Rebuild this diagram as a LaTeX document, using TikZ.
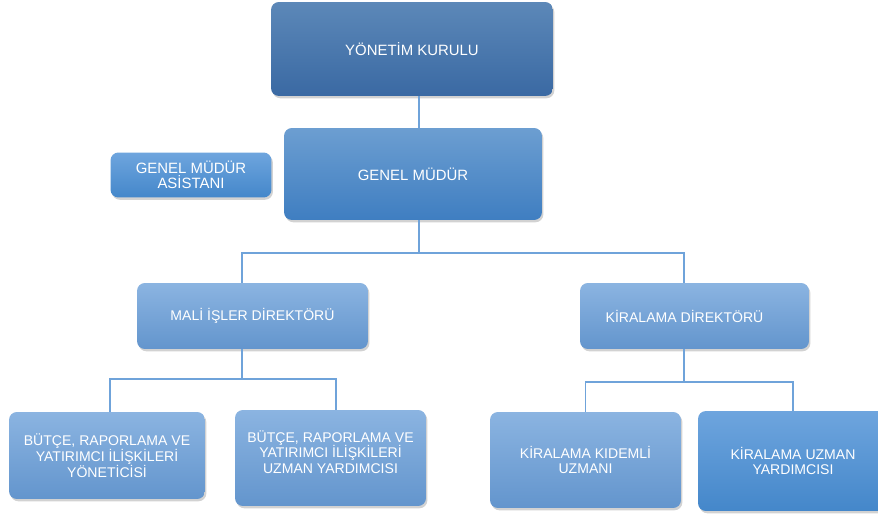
\documentclass[tikz,border=0pt]{standalone}
\usepackage{fontspec}
\setmainfont{Liberation Sans}
\usetikzlibrary{shadows}
\definecolor{linkblue}{HTML}{6FA3DA}
\definecolor{darktop}{RGB}{92,136,184}
\definecolor{darkbot}{RGB}{58,105,163}
\definecolor{midtop}{RGB}{108,158,209}
\definecolor{midbot}{RGB}{63,126,193}
\definecolor{lighttop}{RGB}{139,180,225}
\definecolor{lightbot}{RGB}{99,149,205}
\definecolor{brighttop}{RGB}{110,165,222}
\definecolor{brightbot}{RGB}{68,135,202}
\begin{document}
\begin{tikzpicture}[x=0.02cm, y=-0.02cm, font=\fontsize{8}{9}\selectfont,
    box/.style={rounded corners=4.5pt, text=white, align=center, inner sep=0pt,
        drop shadow={opacity=0.35, shadow xshift=0.8pt, shadow yshift=-1.3pt}},
    topbox/.style={box, top color=darktop, bottom color=darkbot},
    midbox/.style={box, top color=midtop, bottom color=midbot},
    lightbox/.style={box, top color=lighttop, bottom color=lightbot},
    brightbox/.style={box, top color=brighttop, bottom color=brightbot},
    link/.style={draw=linkblue, line width=0.8pt}]
    \fill[white] (0,0) rectangle (878,516);
    \useasboundingbox (0,0) rectangle (878,516);
    % top levels
    \node[topbox, minimum width=5.64cm, minimum height=1.88cm, font=\fontsize{8.5}{10}\selectfont] (kurul) at (412,49) {YÖNETİM KURULU};
    \node[midbox, minimum width=5.16cm, minimum height=1.84cm, font=\fontsize{8.5}{10}\selectfont] (gm) at (413,174) {GENEL MÜDÜR};
    \node[brightbox, minimum width=3.22cm, minimum height=0.9cm, font=\fontsize{8.5}{8.5}\selectfont] (asistan) at (191,175) {GENEL MÜDÜR\\ASİSTANI};
    % directors
    \node[lightbox, minimum width=4.62cm, minimum height=1.32cm] (mali) at (252.5,316) {MALİ İŞLER DİREKTÖRÜ};
    \node[lightbox, minimum width=4.58cm, minimum height=1.32cm, text depth=0pt] (kira) at (694.5,316) {\hspace*{-0.4cm}KİRALAMA DİREKTÖRÜ};
    % staff
    \node[lightbox, minimum width=3.92cm, minimum height=1.74cm] (butce1) at (107,455.5) {BÜTÇE, RAPORLAMA VE\\YATIRIMCI İLİŞKİLERİ\\YÖNETİCİSİ};
    \node[lightbox, minimum width=3.82cm, minimum height=1.92cm] (butce2) at (330.5,458) {BÜTÇE, RAPORLAMA VE\\YATIRIMCI İLİŞKİLERİ\\UZMAN YARDIMCISI\\[-0.08cm]};
    \node[lightbox, minimum width=3.82cm, minimum height=1.92cm] (kidemli) at (585.5,460) {KİRALAMA KIDEMLİ\\UZMANI};
    \node[brightbox, minimum width=3.8cm, minimum height=2cm] (uzman) at (793,461) {KİRALAMA UZMAN\\YARDIMCISI};
    % connectors
    \coordinate (jgm) at (419,253);
    \coordinate (jmali) at (242,379);
    \coordinate (jkira) at (684,382);
    \draw[link] (kurul.south -| jgm) -- (gm.north -| jgm);
    \draw[link] (gm.south -| jgm) -- (jgm);
    \draw[link] (jgm) -| (mali.north -| jmali);
    \draw[link] (jgm) -| (kira.north -| jkira);
    \draw[link] (mali.south -| jmali) -- (jmali);
    \draw[link] (jmali) -| ([xshift=1.7pt]butce1.north);
    \draw[link] (jmali) -| ([xshift=3.1pt]butce2.north);
    \draw[link] (kira.south -| jkira) -- (jkira);
    \draw[link] (jkira) -| (kidemli.north);
    \draw[link] (jkira) -| (uzman.north);
\end{tikzpicture}
\end{document}
